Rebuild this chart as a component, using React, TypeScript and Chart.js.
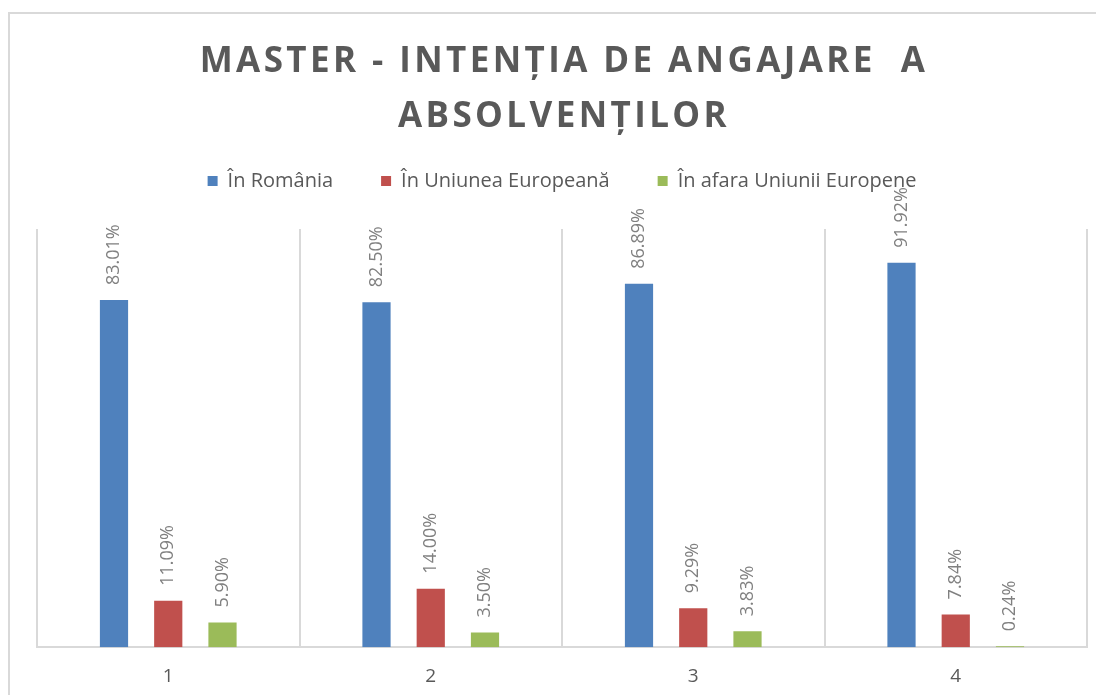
import React, { useEffect, useRef } from "react";
import { Chart, registerables } from "chart.js";

Chart.register(...registerables);

const titleLines = ["MASTER - INTENȚIA DE ANGAJARE  A", "ABSOLVENȚILOR"];
const categories = ["1", "2", "3", "4"];
const seriesNames = ["În România", "În Uniunea Europeană", "În afara Uniunii Europene"];
const inRomania = [83.01, 82.5, 86.89, 91.92];
const inUE = [11.09, 14.0, 9.29, 7.84];
const outsideUE = [5.9, 3.5, 3.83, 0.24];
const seriesColors = ["#4f81bd", "#c0504d", "#9bbb59"];

const titlePlugin = {
  id: "customTitle",
  afterDraw(chart: any) {
    const ctx = chart.ctx;
    ctx.save();
    ctx.font = "bold 35px 'Open Sans'";
    ctx.fillStyle = "#595959";
    ctx.textAlign = "center";
    ctx.textBaseline = "alphabetic";
    (ctx as any).letterSpacing = "3.4px";
    const cx = (chart.chartArea.left + chart.chartArea.right) / 2 + 2;
    ctx.fillText(titleLines[0], cx, 58);
    ctx.fillText(titleLines[1], cx, 113);
    ctx.restore();
  },
};

const legendSpacePlugin = {
  id: "legendSpace",
  beforeInit(chart: any) {
    const legend = chart.legend;
    if (!legend) return;
    const origFit = legend.fit;
    legend.fit = function () {
      origFit.call(this);
      this.height = 106;
    };
  },
};

const labelPlugin = {
  id: "barLabels",
  afterDatasetsDraw(chart: any) {
    const ctx = chart.ctx;
    ctx.save();
    ctx.font = "18px 'Open Sans'";
    ctx.fillStyle = "#808080";
    ctx.textAlign = "left";
    ctx.textBaseline = "middle";
    chart.data.datasets.forEach((ds: any, di: number) => {
      const meta = chart.getDatasetMeta(di);
      meta.data.forEach((bar: any, i: number) => {
        const v = ds.data[i] as number;
        ctx.save();
        ctx.translate(bar.x, bar.y - 15);
        ctx.rotate(-Math.PI / 2);
        ctx.fillText(v.toFixed(2) + "%", 0, 0);
        ctx.restore();
      });
    });
    ctx.restore();
  },
};

export default function App() {
  const ref = useRef<HTMLCanvasElement>(null);
  useEffect(() => {
    if (!ref.current) return;
    const chart = new Chart(ref.current, {
      type: "bar",
      data: {
        labels: categories,
        datasets: [
          { label: seriesNames[0], data: inRomania, backgroundColor: seriesColors[0] },
          { label: seriesNames[1], data: inUE, backgroundColor: seriesColors[1] },
          { label: seriesNames[2], data: outsideUE, backgroundColor: seriesColors[2] },
        ],
      },
      options: {
        responsive: false,
        animation: false,
        datasets: {
          bar: { categoryPercentage: 0.62, barPercentage: 0.52 },
        },
        layout: { padding: { top: 109, left: 27, right: 23, bottom: 0 } },
        plugins: {
          legend: {
            position: "top",
            labels: {
              boxWidth: 10,
              boxHeight: 10,
              padding: 48,
              color: "#595959",
              font: { family: "'Open Sans'", size: 20 },
            },
          },
          title: { display: false },
          tooltip: { enabled: false },
        },
        scales: {
          x: {
            grid: { color: "#d9d9d9", lineWidth: 2, drawTicks: false, offset: true },
            border: { color: "#d9d9d9", width: 2 },
            ticks: { color: "#595959", padding: 18, font: { family: "'Open Sans'", size: 19 } },
          },
          y: { display: false, min: 0, max: 100 },
        },
      },
      plugins: [legendSpacePlugin, titlePlugin, labelPlugin],
    });
    return () => chart.destroy();
  }, []);
  return (
    <div style={{ width: 1096, height: 687, overflow: "hidden", paddingTop: 4, boxSizing: "border-box" }}>
      <div style={{ width: 1200, height: 800, borderTop: "2px solid #d9d9d9", borderLeft: "2px solid #d9d9d9", background: "#fff" }}>
        <canvas ref={ref} width={1100} height={692} style={{ display: "block" }} />
      </div>
    </div>
  );
}
